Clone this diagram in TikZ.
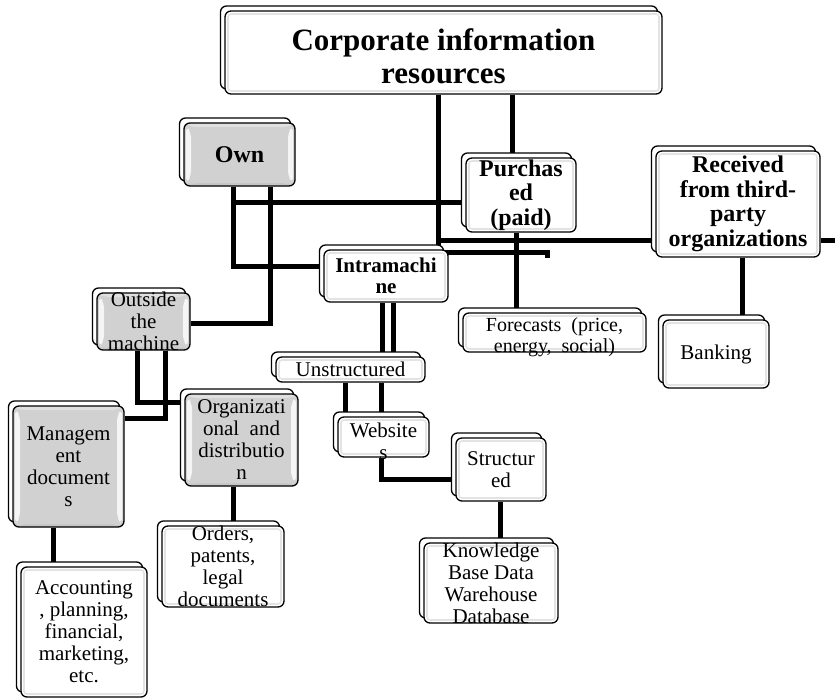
\documentclass[tikz,border=0pt]{standalone}
\usepackage{fontspec}
\setmainfont{Liberation Serif}
\usetikzlibrary{shadows,backgrounds,calc}
\tikzset{
  bx/.style={draw=black, line width=1.3pt, rounded corners=6pt, inner sep=0pt,
    general shadow={draw=black, fill=white, line width=1.3pt, shadow xshift=-4.5pt, shadow yshift=5pt}},
  wbox/.style={bx, fill=white,
    path picture={\draw[gray!22, line width=1.6pt, rounded corners=3pt]
      ($(path picture bounding box.south west)+(3pt,3pt)$) rectangle
      ($(path picture bounding box.north east)+(-3pt,-3pt)$);}},
  gbox/.style={bx, fill=gray!36,
    path picture={
      \fill[gray!24] ($(path picture bounding box.north west)+(0pt,0pt)$) --
        ($(path picture bounding box.north east)+(0pt,0pt)$) --
        ($(path picture bounding box.north east)+(-7pt,-4pt)$) --
        ($(path picture bounding box.north west)+(7pt,-4pt)$) -- cycle;
      \fill[gray!8] ($(path picture bounding box.north west)+(2pt,-3pt)$) --
        ($(path picture bounding box.south west)+(2pt,3pt)$) --
        ($(path picture bounding box.south west)+(7pt,9pt)$) --
        ($(path picture bounding box.north west)+(7pt,-9pt)$) -- cycle;
      \fill[gray!8] ($(path picture bounding box.north east)+(-2pt,-3pt)$) --
        ($(path picture bounding box.south east)+(-2pt,3pt)$) --
        ($(path picture bounding box.south east)+(-7pt,9pt)$) --
        ($(path picture bounding box.north east)+(-7pt,-9pt)$) -- cycle;
      \fill[gray!45] ($(path picture bounding box.south west)+(4pt,0pt)$) --
        ($(path picture bounding box.south east)+(-4pt,0pt)$) --
        ($(path picture bounding box.south east)+(-7pt,3pt)$) --
        ($(path picture bounding box.south west)+(7pt,3pt)$) -- cycle;
    }},
  titletxt/.style={font=\bfseries\fontsize{31}{33}\selectfont, align=center, inner sep=0pt},
  bigbold/.style={font=\bfseries\fontsize{24}{24.5}\selectfont, align=center, inner sep=0pt},
  midbold/.style={font=\bfseries\fontsize{21}{21.5}\selectfont, align=center, inner sep=0pt},
  reg/.style={font=\fontsize{21}{22}\selectfont, align=center, inner sep=0pt},
  regs/.style={font=\fontsize{20}{21}\selectfont, align=center, inner sep=0pt},
  conn/.style={line width=5pt, draw=black},
}
\begin{document}
\begin{tikzpicture}[x=1pt,y=-1pt]
\useasboundingbox (0,0) rectangle (835,698);
% boxes
\node[wbox, minimum width=437pt, minimum height=83pt] (corp) at (443.5,52.5) {};
\node[gbox, minimum width=111pt, minimum height=63pt] (own) at (239.5,154.5) {};
\node[wbox, minimum width=110pt, minimum height=74pt] (purch) at (521,195) {};
\node[wbox, minimum width=164pt, minimum height=106pt] (recv) at (738,204) {};
\node[wbox, minimum width=124pt, minimum height=52pt] (intra) at (386,276) {};
\node[gbox, minimum width=93pt, minimum height=57pt] (outside) at (143.5,321.5) {};
\node[wbox, minimum width=183pt, minimum height=39pt] (fore) at (554.5,332.5) {};
\node[wbox, minimum width=106pt, minimum height=68pt] (bank) at (716,354) {};
\node[wbox, minimum width=149pt, minimum height=25pt] (unstr) at (350.5,369.5) {};
\node[wbox, minimum width=91pt, minimum height=40pt] (web) at (383.5,437) {};
\node[wbox, minimum width=90pt, minimum height=63pt] (struct) at (501,469.5) {};
\node[wbox, minimum width=134pt, minimum height=80pt] (know) at (491,583) {};
\node[gbox, minimum width=113pt, minimum height=92pt] (org) at (241.5,440) {};
\node[gbox, minimum width=111pt, minimum height=121pt] (mgmt) at (68.5,466.5) {};
\node[wbox, minimum width=122pt, minimum height=81pt] (orders) at (223,566.5) {};
\node[wbox, minimum width=126pt, minimum height=130pt] (acct) at (84,632) {};
% texts
\node[titletxt] (corpT) at ([yshift=-4pt]corp.center) {Corporate information\\resources};
\node[bigbold] (ownT) at (own.center) {Own};
\node[bigbold] (purchT) at (purch.center) {Purchas\\ed\\(paid)};
\node[bigbold] (recvT) at (recv.center) {Received\\from third-\\party\\organizations};
\node[midbold] (intraT) at (intra.center) {Intramachi\\ne};
\node[reg] (outsideT) at (outside.center) {Outside\\the\\machine};
\node[regs] (foreT) at ([yshift=-5pt]fore.center) {Forecasts\ \ (price,\\energy,\ \ social)};
\node[reg] (bankT) at (bank.center) {Banking};
\node[reg] (unstrT) at (unstr.center) {Unstructured};
\node[reg] (webT) at ([yshift=-4pt]web.center) {Website\\s};
\node[reg] (structT) at (struct.center) {Structur\\ed};
\node[reg] (knowT) at (know.center) {Knowledge\\Base Data\\Warehouse\\Database};
\node[reg] (orgT) at (org.center) {Organizati\\onal\ \ and\\distributio\\n};
\node[reg] (mgmtT) at (mgmt.center) {Managem\\ent\\document\\s};
\node[reg] (ordersT) at (orders.center) {Orders,\\patents,\\legal\\documents};
\node[reg] (acctT) at (acct.center) {Accounting\\, planning,\\financial,\\marketing,\\etc.};
% helper coordinates
\coordinate (xc1) at (438,0);
\coordinate (xc2) at (512,0);
\coordinate (xo1) at (233,0);
\coordinate (xo2) at (270,0);
\coordinate (xp) at (516,0);
\coordinate (xr) at (742,0);
\coordinate (xi1) at (382,0);
\coordinate (xi2) at (393,0);
\coordinate (xu1) at (345,0);
\coordinate (xu2) at (381,0);
\coordinate (xs) at (500,0);
\coordinate (xm1) at (137,0);
\coordinate (xm2) at (165,0);
\coordinate (xg) at (53,0);
\coordinate (xor) at (233,0);
\coordinate (bL) at (438,240);
\coordinate (edgeR) at (835,240);
\coordinate (stubTop) at (547,252);
\coordinate (stub) at (547,258);
\coordinate (pw) at ([yshift=-7pt]purch.west);
\begin{pgfonlayer}{background}
\draw[conn] (xc1 |- corp.south) |- (stubTop) -- (stub);
\draw[conn] (bL) -- (bL -| recv.west);
\draw[conn] (bL -| recv.east) -- (edgeR);
\draw[conn] (xc2 |- corp.south) -- (xc2 |- purch.north);
\draw[conn] (xo1 |- own.south) |- ([yshift=10pt]intra.west);
\draw[conn] (pw -| xo1) -- (pw);
\draw[conn] (xo2 |- own.south) |- ([yshift=-1.5pt]outside.east);
\draw[conn] (xp |- purch.south) -- (xp |- fore.north);
\draw[conn] (xr |- recv.south) -- (xr |- bank.north);
\draw[conn] (xi1 |- intra.south) -- (xi1 |- unstr.north);
\draw[conn] (xi2 |- intra.south) -- (xi2 |- unstr.north);
\draw[conn] (xu1 |- unstr.south) -- (xu1 |- web.north);
\draw[conn] (xu2 |- unstr.south) -- (xu2 |- web.north);
\draw[conn] (xu2 |- web.south) |- ([yshift=-9.5pt]struct.west);
\draw[conn] (xs |- struct.south) -- (xs |- know.north);
\draw[conn] (xm1 |- outside.south) |- ([yshift=38pt]org.west);
\draw[conn] (xm2 |- outside.south) |- ([yshift=48.5pt]mgmt.east);
\draw[conn] (xg |- mgmt.south) -- (xg |- acct.north);
\draw[conn] (xor |- org.south) -- (xor |- orders.north);
\end{pgfonlayer}
\end{tikzpicture}
\end{document}
